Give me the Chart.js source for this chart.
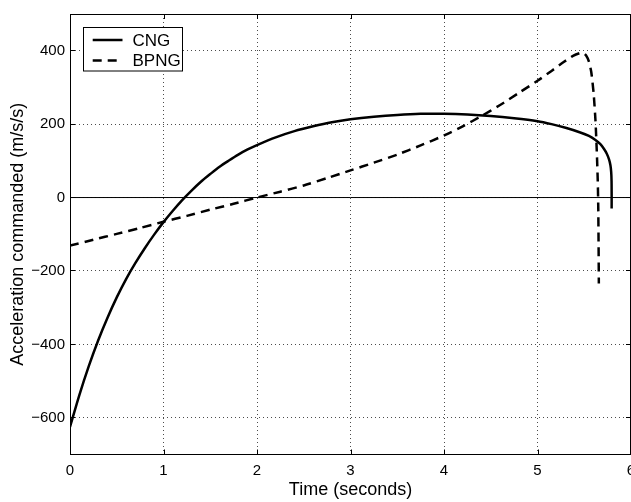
<!DOCTYPE html>
<html>
<head>
<meta charset="utf-8">
<script src="https://cdn.jsdelivr.net/npm/chart.js@4/dist/chart.umd.min.js"></script>
<style>
  html, body { margin: 0; padding: 0; background: #fff; overflow: hidden; }
  #wrap { position: absolute; left: 0; top: 0; width: 660px; height: 502px; }
</style>
</head>
<body>
<div id="wrap"><canvas id="c" width="660" height="502"></canvas></div>
<script>
// Commanded acceleration histories for the two guidance laws
const seriesNames = ['CNG', 'BPNG'];

const cngTime  = [0.00, 0.10, 0.20, 0.30, 0.40, 0.50, 0.60, 0.70, 0.80, 0.90, 1.00, 1.10, 1.20, 1.30, 1.40,
                  1.50, 1.60, 1.70, 1.80, 1.90, 2.00, 2.20, 2.40, 2.60, 2.80, 3.00, 3.25, 3.50, 3.75, 4.00,
                  4.25, 4.50, 4.75, 5.00, 5.15, 5.30, 5.45, 5.55, 5.62, 5.67, 5.71, 5.74, 5.765, 5.78, 5.788,
                  5.792, 5.793, 5.793];
const cngAccel = [-625, -538, -460, -390, -328, -272, -222, -178, -138, -101, -67, -36, -7, 19, 43,
                  64, 84, 101, 117, 131, 143, 164, 181, 194, 205, 213, 220, 225, 228, 228,
                  226, 222, 216, 208, 200, 190, 178, 168, 157, 146, 133, 120, 104, 88, 70,
                  45, 10, -30];

const bpngTime  = [0.00, 0.25, 0.50, 0.75, 1.00, 1.25, 1.50, 1.75, 2.00, 2.25, 2.50, 2.75, 3.00, 3.25, 3.50,
                   3.75, 4.00, 4.20, 4.40, 4.60, 4.80, 5.00, 5.15, 5.28, 5.38, 5.48, 5.52, 5.55, 5.575, 5.60,
                   5.62, 5.635, 5.645, 5.65, 5.653, 5.656];
const bpngAccel = [-131, -115, -99, -83, -66, -50, -33, -17, 0, 16, 33, 53, 74, 95, 117,
                   142, 169, 194, 222, 252, 285, 318, 345, 369, 386, 395, 387, 370, 342, 285,
                   210, 120, 40, -30, -120, -234];

// Reference line at zero acceleration
const zeroTime  = [0, 6];
const zeroAccel = [0, 0];

const xTicks = [0, 1, 2, 3, 4, 5, 6];
const yTicks = [-600, -400, -200, 0, 200, 400];
const xRange = [0, 6];
const yRange = [-700, 500];

const toPoints = (xs, ys) => xs.map((x, i) => ({ x: x, y: ys[i] }));
const fmt = v => (v < 0 ? '\u2212' + Math.abs(v) : String(v));

const FONT = '"Liberation Sans", Arial, Helvetica, sans-serif';
const DASH = [9, 6];

// Box frame, inward tick marks and boxed legend
const framePlugin = {
  id: 'frame',
  afterDraw(chart) {
    const { ctx, chartArea: a, scales } = chart;
    ctx.save();
    ctx.strokeStyle = '#000';
    ctx.lineWidth = 1;
    ctx.setLineDash([]);
    ctx.beginPath();
    ctx.moveTo(a.left, Math.round(a.top) + 0.5);
    ctx.lineTo(a.right, Math.round(a.top) + 0.5);
    ctx.moveTo(Math.round(a.right) - 0.5, a.top);
    ctx.lineTo(Math.round(a.right) - 0.5, a.bottom);
    const tl = 5;
    xTicks.forEach(v => {
      const px = Math.round(scales.x.getPixelForValue(v)) + 0.5;
      ctx.moveTo(px, a.bottom); ctx.lineTo(px, a.bottom - tl);
      ctx.moveTo(px, a.top); ctx.lineTo(px, a.top + tl);
    });
    yTicks.forEach(v => {
      const py = Math.round(scales.y.getPixelForValue(v) - 0.5) + 0.5;
      ctx.moveTo(a.left, py); ctx.lineTo(a.left + tl, py);
      ctx.moveTo(a.right, py); ctx.lineTo(a.right - tl, py);
    });
    ctx.stroke();

    // legend
    const bx = 83.5, by = 27.5, bw = 99, bh = 43.5;
    ctx.fillStyle = '#fff';
    ctx.fillRect(bx, by, bw, bh);
    ctx.strokeRect(bx, by, bw, bh);
    const rows = [40, 60.5];
    chart.data.datasets.slice(0, 2).forEach((ds, i) => {
      ctx.beginPath();
      ctx.lineWidth = ds.borderWidth;
      ctx.setLineDash(ds.borderDash || []);
      ctx.moveTo(92.7, rows[i]);
      ctx.lineTo(122.5, rows[i]);
      ctx.stroke();
      ctx.setLineDash([]);
      ctx.fillStyle = '#000';
      ctx.font = '17px ' + FONT;
      ctx.textBaseline = 'middle';
      ctx.textAlign = 'left';
      ctx.fillText(ds.label, 132.5, rows[i] + 1);
    });
    ctx.restore();
  }
};

new Chart(document.getElementById('c'), {
  type: 'line',
  data: {
    datasets: [
      { label: seriesNames[0], data: toPoints(cngTime, cngAccel), borderColor: '#000', borderWidth: 2.5,
        pointRadius: 0, tension: 0.3, fill: false },
      { label: seriesNames[1], data: toPoints(bpngTime, bpngAccel), borderColor: '#000', borderWidth: 2.5,
        borderDash: DASH, pointRadius: 0, tension: 0.2, fill: false },
      { label: 'zero', data: toPoints(zeroTime, zeroAccel), borderColor: '#000', borderWidth: 1,
        pointRadius: 0, tension: 0, fill: false }
    ]
  },
  options: {
    responsive: false,
    animation: false,
    devicePixelRatio: 1,
    layout: { padding: { top: 10.5, right: 29, left: 0, bottom: 0 } },
    plugins: { legend: { display: false }, tooltip: { enabled: false } },
    scales: {
      x: {
        type: 'linear',
        min: xRange[0], max: xRange[1],
        afterBuildTicks: s => { s.ticks = xTicks.map(v => ({ value: v })); },
        afterFit: s => { s.height = 47.5; },
        grid: { color: 'rgba(0,0,0,0.7)', lineWidth: 1, drawTicks: false },
        border: { display: true, color: '#000', width: 1, dash: [1, 3] },
        ticks: { color: '#000', font: { family: FONT, size: 15 }, padding: 7, maxRotation: 0,
                 callback: v => fmt(v) },
        title: { display: true, text: 'Time (seconds)', color: '#000',
                 font: { family: FONT, size: 18, lineHeight: 1.2 }, padding: { top: 0, bottom: 1 } }
      },
      y: {
        type: 'linear',
        min: yRange[0], max: yRange[1],
        afterBuildTicks: s => { s.ticks = yTicks.map(v => ({ value: v })); },
        afterFit: s => { s.width = 70; },
        grid: { color: 'rgba(0,0,0,0.7)', lineWidth: 1, drawTicks: false },
        border: { display: true, color: '#000', width: 1, dash: [1, 3] },
        ticks: { color: '#000', font: { family: FONT, size: 15 }, padding: 5,
                 callback: v => fmt(v) },
        title: { display: true, text: 'Acceleration commanded (m/s/s)', color: '#000',
                 font: { family: FONT, size: 18, lineHeight: 1.2 }, padding: { top: 7, bottom: 0 } }
      }
    }
  },
  plugins: [framePlugin]
});
</script>
</body>
</html>
